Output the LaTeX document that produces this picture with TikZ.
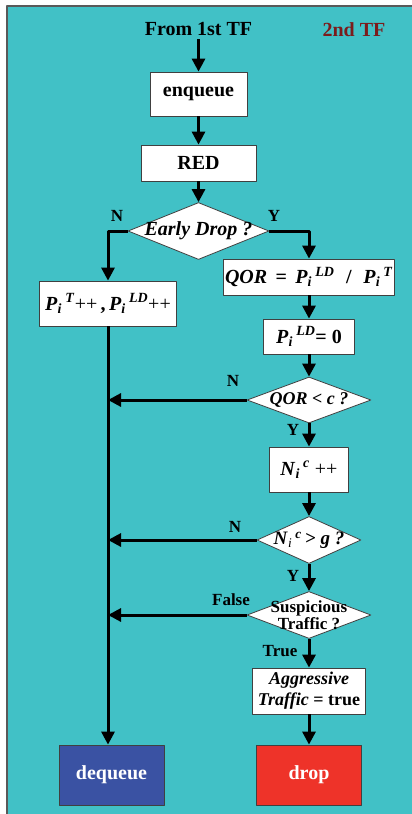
\documentclass[tikz,border=0pt]{standalone}
\usepackage{fontspec}
\setmainfont{Liberation Serif}
\usetikzlibrary{shapes.geometric,arrows.meta}
\definecolor{bgteal}{RGB}{65,193,198}
\definecolor{deqblue}{RGB}{58,82,163}
\definecolor{dropred}{RGB}{238,51,41}
\definecolor{tfred}{RGB}{123,28,28}
\newcommand{\bi}[1]{\textbf{\textit{#1}}}
\newcommand{\Pvar}[1]{\bi{P}\textsubscript{\textit{i}}\,\textsuperscript{\bi{#1}}}
\newcommand{\Nvar}{\bi{N}\textsubscript{\textit{i}}\,\textsuperscript{\bi{c}}}
\begin{document}
\begin{tikzpicture}[x=1pt,y=-1pt,>={Triangle[length=13pt,width=13pt]},line join=round,
	box/.style={draw=black!75,line width=0.8pt,fill=white,inner sep=0pt,font=\fontsize{20}{22}\selectfont\bfseries},
	dec/.style={diamond,draw=black!75,line width=0.8pt,fill=white,inner sep=0pt},
	flow/.style={->,line width=3pt},
	yn/.style={font=\fontsize{17}{18}\selectfont\bfseries}]
	\useasboundingbox (0,0) rectangle (412,814);
	\fill[white] (0,0) rectangle (412,814);
	\fill[bgteal] (7,6) rectangle (412,814);
	\draw[black!65,line width=1.2pt] (7,814)--(7,6)--(412,6);
	\node[font=\fontsize{20}{22}\selectfont\bfseries] (from) at (198.5,29) {From 1st TF};
	\node[font=\fontsize{20}{22}\selectfont\bfseries,text=tfred] (tf) at (354,30) {2nd TF};
	\node[box,minimum width=97pt,minimum height=44pt] (enq) at (198.5,94) {enqueue};
	\node[box,minimum width=115pt,minimum height=36pt] (red) at (198.5,163) {RED};
	\node[dec,minimum width=141pt,minimum height=57pt,
		label={[font=\fontsize{20}{22}\selectfont]center:\bi{Early Drop ?}}] (ed) at (198.5,231) {};
	\node[box,minimum width=137pt,minimum height=45pt] (pb) at (108,303.5)
		{\Pvar{T}\textmd{++}\,,\,\Pvar{LD}\textmd{++}};
	\node[box,minimum width=171pt,minimum height=36pt] (qor) at (309,277)
		{\bi{QOR}\, =\, \Pvar{LD}\,\, /\,\, \Pvar{T}};
	\node[box,minimum width=91pt,minimum height=35pt] (pld) at (309,336.5) {\Pvar{LD}= 0};
	\node[dec,minimum width=124pt,minimum height=46pt,
		label={[font=\fontsize{18}{20}\selectfont]center:\bi{QOR < c ?}}] (qc) at (309,400) {};
	\node[box,minimum width=79pt,minimum height=45pt] (nc) at (309,469.5) {\Nvar\ \textmd{++}};
	\node[dec,minimum width=104pt,minimum height=47pt,
		label={[font=\fontsize{19}{21}\selectfont]center:\Nvar\,\bi{> g ?}}] (ng) at (309,540) {};
	\node[dec,minimum width=124pt,minimum height=47pt,
		label={[font=\fontsize{17}{17}\selectfont\bfseries,align=center]center:Suspicious\\Traffic ?}] (sus) at (309,615) {};
	\node[box,minimum width=113pt,minimum height=46pt,align=center,font=\fontsize{18}{21}\selectfont\bfseries] (agg) at (309,691)
		{\textit{Aggressive}\\\textit{Traffic} = true};
	\node[box,fill=dropred,text=white,minimum width=105pt,minimum height=60pt] (drop) at (309,775) {drop};
	\node[box,fill=deqblue,text=white,minimum width=105pt,minimum height=60pt] (deq) at (111.5,775) {dequeue};
	\node[yn] (n1) at (117,216) {N};
	\node[yn] (y1) at (274,216) {Y};
	\node[yn] (n2) at (233,381) {N};
	\node[yn] (y2) at (293,430) {Y};
	\node[yn] (n3) at (235,527) {N};
	\node[yn] (y3) at (293,576) {Y};
	\node[yn] (fa) at (231,600) {False};
	\node[yn] (tr) at (280,651) {True};
	\draw[flow] (from.south) -- (enq.north);
	\draw[flow] (enq) -- (red);
	\draw[flow] (red) -- (ed);
	\draw[flow] (ed.west) -| (pb.north);
	\draw[flow] (ed.east) -| (qor.north);
	\draw[flow] (qor) -- (pld);
	\draw[flow] (pld) -- (qc);
	\draw[flow] (qc) -- (nc);
	\draw[flow] (nc) -- (ng);
	\draw[flow] (ng) -- (sus);
	\draw[flow] (sus) -- (agg);
	\draw[flow] (agg) -- (drop);
	\draw[flow] (pb.south) -- (pb.south |- deq.north);
	\draw[flow] (qc.west) -- (qc.west -| pb.south);
	\draw[flow] (ng.west) -- (ng.west -| pb.south);
	\draw[flow] (sus.west) -- (sus.west -| pb.south);
\end{tikzpicture}
\end{document}
